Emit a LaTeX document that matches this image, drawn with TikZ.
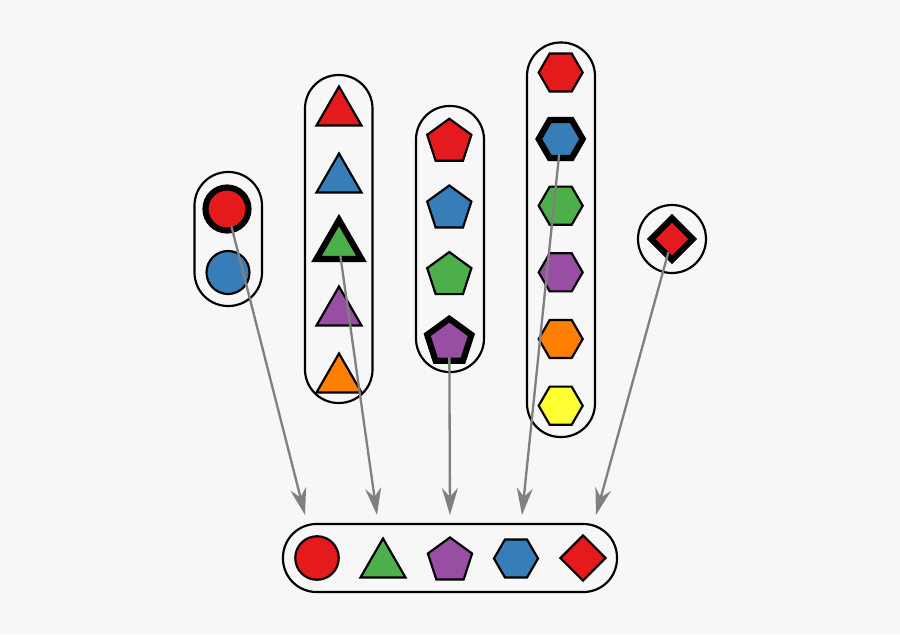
\documentclass[tikz,border=0pt]{standalone}
\usepackage{tikz}
\usetikzlibrary{arrows.meta,shapes.geometric}
\definecolor{bg}{HTML}{F7F7F7}
\definecolor{setred}{HTML}{E41A1C}
\definecolor{setblue}{HTML}{377EB8}
\definecolor{setgreen}{HTML}{4DAF4A}
\definecolor{setpurple}{HTML}{984EA3}
\definecolor{setorange}{HTML}{FF7F00}
\definecolor{setyellow}{HTML}{FFFF33}
\definecolor{linkgray}{HTML}{808080}
\tikzset{
  every picture/.style={line cap=round, >=Stealth},
  token/.style={draw=black, line width=0.62pt, inner sep=0pt},
  picked/.style={line width=1.75pt},
  dot/.style={token, circle, minimum size=0.43cm},
  tri/.style={token, regular polygon, regular polygon sides=3, minimum size=0.52cm},
  penta/.style={token, regular polygon, regular polygon sides=5, minimum size=0.465cm},
  hexa/.style={token, regular polygon, regular polygon sides=6, minimum size=0.44cm},
  rhomb/.style={token, diamond, minimum size=0.44cm},
  bag/.style={draw=black, line width=0.62pt, rounded corners=0.335cm},
  link/.style={draw=linkgray, line width=0.66pt, -{Stealth[length=0.27cm,width=0.16cm]}, shorten <=-1.75pt},
}

\begin{document}
\begin{tikzpicture}
\fill[bg] (0,0) rectangle (9,6.34);
% the five bags
\draw[bag] (1.945,3.28) rectangle (2.62,4.62);
\draw[bag] (3.05,2.31) rectangle (3.725,5.59);
\draw[bag] (4.16,2.62) rectangle (4.84,5.28);
\draw[bag] (5.27,1.97) rectangle (5.95,5.915);
\draw[bag] (6.72,3.95) circle (0.34);
\draw[bag] (2.83,0.42) rectangle (6.17,1.10);
% circles
\node[dot, picked, fill=setred] (redcirc) at (2.27,4.25) {};
\node[dot, fill=setblue] (bluecirc) at (2.28,3.615) {};
% triangles
\node[tri, fill=setred] (redtri) at (3.39,5.215) {};
\node[tri, fill=setblue] (bluetri) at (3.39,4.545) {};
\node[tri, picked, fill=setgreen] (greentri) at (3.39,3.88) {};
\node[tri, fill=setpurple] (purpletri) at (3.39,3.215) {};
\node[tri, fill=setorange] (orangetri) at (3.39,2.545) {};
% pentagons
\node[penta, fill=setred] (redpent) at (4.493,4.92) {};
\node[penta, fill=setblue] (bluepent) at (4.493,4.253) {};
\node[penta, fill=setgreen] (greenpent) at (4.493,3.587) {};
\node[penta, picked, fill=setpurple] (purplepent) at (4.493,2.92) {};
% hexagons
\node[hexa, fill=setred] (redhex) at (5.607,5.615) {};
\node[hexa, picked, fill=setblue] (bluehex) at (5.607,4.95) {};
\node[hexa, fill=setgreen] (greenhex) at (5.607,4.283) {};
\node[hexa, fill=setpurple] (purplehex) at (5.607,3.617) {};
\node[hexa, fill=setorange] (orangehex) at (5.607,2.95) {};
\node[hexa, fill=setyellow] (yellowhex) at (5.607,2.283) {};
% diamond
\node[rhomb, picked, fill=setred] (reddiam) at (6.72,3.95) {};
% the chosen ones
\node[dot, minimum size=0.435cm, fill=setred] (outcirc) at (3.17,0.76) {};
\node[tri, fill=setgreen] (outtri) at (3.83,0.695) {};
\node[penta, fill=setpurple] (outpent) at (4.50,0.733) {};
\node[hexa, fill=setblue] (outhex) at (5.16,0.755) {};
\node[rhomb, minimum size=0.46cm, fill=setred] (outdiam) at (5.83,0.76) {};
\coordinate (tip1) at (3.05,1.19);
\coordinate (tip2) at (3.77,1.19);
\coordinate (tip3) at (4.50,1.19);
\coordinate (tip4) at (5.22,1.19);
\coordinate (tip5) at (5.96,1.19);
\draw[link] (redcirc) -- (tip1);
\draw[link] (greentri) -- (tip2);
\draw[link] (purplepent) -- (tip3);
\draw[link] (bluehex) -- (tip4);
\draw[link] (reddiam) -- (tip5);
\end{tikzpicture}
\end{document}
